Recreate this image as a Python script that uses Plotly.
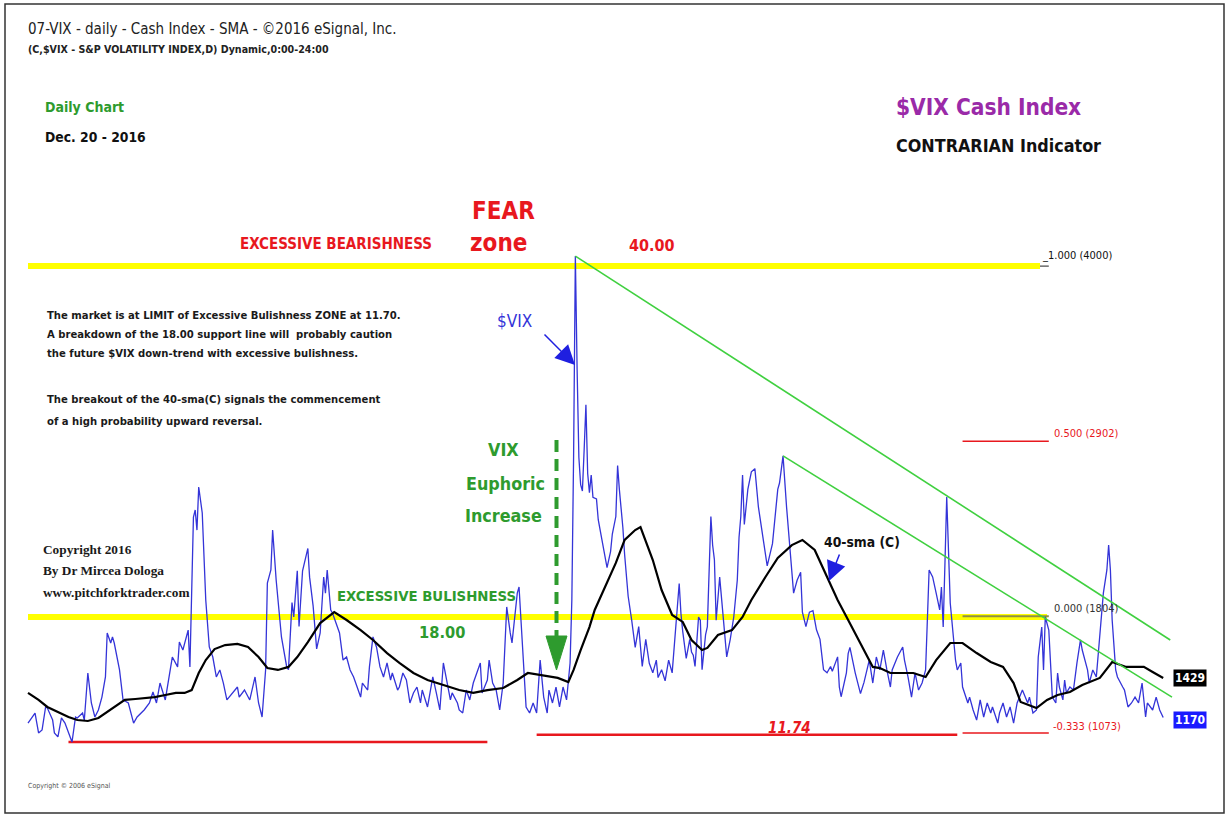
import plotly.graph_objects as go

W, H = 1228, 816

# ---------------- data (trading-day index, $VIX close) ----------------
vix_day = [0, 2, 4, 6, 8, 10, 11, 14, 15, 17, 19, 21, 23, 25, 27, 28, 31, 32, 34, 36, 38, 40, 42, 44, 45, 47, 48, 49,
           52, 54, 57, 60, 62, 66, 69, 71, 73, 75, 78, 81, 82, 85, 86, 88, 91, 92, 94, 95, 96, 97, 99, 101, 102, 103,
           105, 107, 109, 111, 113, 116, 119, 120, 123, 126, 129, 131, 133, 135, 136, 138, 139, 141, 144, 147, 148,
           150, 151, 153, 154, 156, 159, 160, 162, 164, 166, 168, 169, 170, 172, 173, 176, 177, 179, 181, 183, 185,
           187, 189, 190, 193, 194, 196, 198, 200, 202, 204, 206, 207, 210, 211, 213, 215, 217, 219, 221, 223, 224,
           227, 228, 230, 232, 234, 236, 238, 240, 241, 244, 245, 247, 249, 251, 253, 255, 257, 258, 261, 262, 264,
           266, 268, 270, 272, 274, 275, 278, 279, 281, 283, 285, 287, 289, 291, 293, 295, 296, 298, 300, 302, 304,
           306, 308, 309, 310, 311, 312, 313, 314, 315, 316, 317, 318, 319, 320, 321, 323, 324, 326, 327, 329, 331,
           332, 334, 335, 336, 337, 338, 339, 341, 343, 345, 347, 349, 351, 353, 355, 357, 358, 360, 362, 364, 366,
           367, 368, 370, 371, 372, 374, 376, 377, 378, 379, 381, 382, 383, 385, 386, 388, 389, 390, 391, 393, 395,
           397, 399, 401, 403, 404, 405, 406, 407, 409, 411, 413, 415, 417, 419, 420, 423, 426, 427, 429, 431, 433,
           435, 437, 439, 440, 442, 444, 446, 448, 450, 452, 454, 456, 457, 460, 461, 462, 465, 466, 467, 470, 472,
           473, 475, 478, 480, 482, 484, 486, 488, 490, 491, 494, 497, 498, 500, 502, 504, 506, 508, 510, 512, 514,
           516, 518, 519, 520, 521, 522, 524, 526, 527, 528, 530, 531, 534, 535, 537, 539, 541, 543, 545, 547, 548,
           551, 552, 554, 556, 558, 560, 562, 564, 565, 568, 569, 571, 573, 574, 576, 577, 578, 580, 581, 582, 584,
           585, 586, 588, 589, 590, 592, 594, 596, 598, 599, 602, 603, 605, 607, 609, 611, 613, 614, 615, 616, 618,
           619, 622, 623, 625, 627, 629, 631, 633, 635, 636, 639, 641, 643, 645]
vix_close = [11.35, 11.67, 11.98, 10.73, 10.92, 12.36, 12.29, 11.54, 10.73, 10.48, 11.67, 11.35, 10.73, 10.16, 11.73,
             11.67, 11.98, 11.54, 14.49, 12.61, 11.73, 12.17, 12.98, 14.24, 17.00, 16.37, 16.75, 16.37,
             14.68, 12.80, 12.61, 11.35, 11.73, 12.17, 12.61, 13.30, 12.61, 13.86, 12.80, 14.68, 15.49, 14.87, 16.43,
             15.93, 17.18, 14.87, 24.27, 24.71, 23.45, 26.15, 24.52, 19.07, 17.37, 16.12,
             15.49, 14.24, 14.68, 13.86, 12.80, 13.24, 13.61, 12.98, 13.42, 12.80, 14.24, 12.61, 11.73, 14.68, 20.13,
             20.95, 23.45, 20.32, 16.75, 14.87, 14.70,
             18.90, 18.00, 20.90, 17.40, 20.90, 22.30, 20.50, 18.70, 16.00, 17.00, 20.51, 19.50, 20.95, 18.44, 18.25,
             17.37, 17.00, 15.30, 15.49, 14.68, 14.24,
             13.61, 12.98, 13.86, 13.42, 14.87, 16.75, 16.12, 14.87, 14.24, 15.12, 14.05, 14.49, 13.42, 13.61, 14.49,
             14.05, 12.61, 13.24, 13.61, 12.61, 13.42,
             12.36, 12.98, 14.24, 13.24, 12.17, 15.12, 13.86, 12.80, 13.24, 12.61, 12.17, 11.98, 13.42, 12.80, 13.86,
             14.49, 15.12, 13.24, 14.05, 15.30, 13.86,
             13.42, 12.17, 13.86, 18.63, 17.00, 16.37, 19.50, 19.88, 16.12, 12.36, 11.98, 12.61, 11.98, 15.30, 12.98,
             11.98, 13.42, 12.61, 13.61, 12.36, 13.61,
             12.80, 15.12, 19.07, 28.09, 40.63, 33.50, 28.00, 26.30, 25.90, 28.50, 31.30, 27.00, 25.80, 26.90, 25.50,
             25.40, 24.10, 22.90, 22.20, 21.10, 22.10,
             23.20, 24.30, 27.50, 26.00, 24.90, 23.60, 21.90, 19.30, 17.80, 16.10, 17.40, 14.90, 16.60, 15.10, 14.50,
             15.30, 14.20, 14.70, 14.00, 15.30, 14.50,
             15.80, 17.30, 20.10, 18.20, 17.10, 15.40, 16.60, 15.80, 15.60, 14.90, 18.00, 17.80, 14.70, 16.90, 17.40,
             24.30, 22.50, 21.60, 17.80, 20.50, 18.20,
             15.50, 16.60, 18.00, 20.30, 23.00, 24.30, 26.90, 23.80, 26.00, 27.10, 27.30, 24.90, 23.50, 22.20, 21.20,
             22.60, 26.00, 26.40, 28.10, 24.90, 22.20,
             19.50, 20.30, 20.80, 18.30, 17.40, 18.30, 18.40, 17.20, 16.60, 14.70, 14.50, 14.90, 14.60, 15.50, 13.60,
             13.00, 14.50, 15.70, 16.10, 14.50, 13.60,
             13.20, 13.90, 15.30, 13.86, 15.49, 14.68, 15.93, 14.68, 13.61, 14.68, 15.49, 16.12, 15.30, 14.24, 12.98,
             14.49, 13.42, 13.86, 14.68, 20.95, 20.51,
             19.50, 18.44, 19.88, 17.37, 21.39, 25.52, 18.88, 16.12, 15.30, 14.68, 15.12, 13.61, 12.61, 12.98, 12.17,
             11.54, 12.80, 11.73, 12.61, 11.98, 12.36,
             11.35, 11.98, 12.61, 11.73, 12.36, 11.35, 12.61, 13.24, 13.42, 12.61, 12.98, 11.98, 12.17, 15.49, 17.37,
             14.68, 18.00, 17.18, 14.68, 12.98, 12.61,
             14.49, 13.61, 12.80, 14.05, 13.24, 13.61, 13.42, 15.12, 16.56, 15.93, 14.68, 13.86, 14.68, 14.24, 16.75,
             19.50, 20.95, 22.51, 20.95, 17.81, 14.68,
             14.24, 13.61, 13.42, 12.36, 12.61, 12.98, 12.61, 13.86, 11.73, 12.61, 12.17, 12.98, 12.17, 11.70]

sma_day = [0, 6, 11, 17, 23, 28, 34, 40, 45, 51, 55, 61, 66, 72, 78, 84, 89, 93, 97, 101, 106, 112, 119, 125, 131,
           136, 142, 148, 153, 159, 166, 174, 181, 189, 196, 204, 211, 219, 227, 236, 245, 253, 261, 270, 278, 284,
           291, 301, 307, 310, 314, 319, 322, 328, 334, 339, 345, 348, 350, 355, 360, 366, 372, 377, 383, 386, 392,
           400, 406, 411, 419, 426, 434, 440, 447, 453, 460, 466, 474, 480, 484, 490, 495, 503, 510, 516, 524, 531,
           539, 547, 554, 560, 564, 569, 573, 579, 585, 592, 599, 609, 616, 624, 634, 639, 645]
sma_40 = [13.24, 12.80, 12.36, 12.04, 11.73, 11.54, 11.48, 11.67, 12.04, 12.48, 12.80, 12.86, 12.92, 12.98, 13.11,
          13.24, 13.24, 13.42, 14.49, 15.30, 15.99, 16.24, 16.31, 16.12, 15.49,
          14.80, 14.68, 14.87, 15.49, 16.43, 17.62, 18.31, 17.81, 17.18, 16.56, 15.74, 15.12, 14.49, 14.05, 13.74,
          13.42, 13.24, 13.42, 13.55, 14.05, 14.49,
          14.36, 14.18, 13.92, 14.68, 15.93, 17.37, 18.44, 19.88, 21.39, 22.83, 23.45, 23.64, 23.02, 21.57, 19.69,
          18.13, 17.69, 16.56, 15.93, 16.06, 16.87,
          17.18, 18.00, 19.07, 20.51, 21.70, 22.51, 22.83, 22.20, 20.76, 19.07, 17.81, 16.12, 14.87, 14.80, 14.49,
          14.49, 14.49, 14.24, 15.30, 16.37, 16.37,
          15.74, 15.18, 14.87, 13.86, 12.67, 12.48, 12.29, 12.80, 13.11, 13.30, 13.74, 14.18, 15.18, 14.87, 14.87,
          14.55, 14.18]

level_fear = 40.00          # EXCESSIVE BEARISHNESS
level_bull = 18.00          # EXCESSIVE BULISHNESS
fib_values = [40.00, 29.02, 18.04, 10.73]
fib_labels = ["1.000 (4000)", "0.500 (2902)", "0.000 (1804)", "-0.333 (1073)"]
support_values = [10.16, 10.62]
trend_upper = ([311, 649], [40.63, 16.56])
trend_lower = ([429, 650], [28.10, 12.98])
last_close_label = "1170"
last_sma_label = "1429"

# ---------------- styling ----------------
NARROW = "Liberation Sans Narrow, Arial Narrow, DejaVu Sans Condensed, sans-serif"
SERIF = "Liberation Serif, Times New Roman, serif"
RED = "#e8181e"
GREEN_T = "#2e9b2e"
BLUE = "#3434d8"
YELLOW = "#ffff00"
LGREEN = "#40d040"

# axis mapping: 1.76 px per trading day, day 0 at x=28 px; 15.95 px per VIX point, 18.00 at y=617 px
XR = [-28 / 1.76, (W - 28) / 1.76]
YR = [18 - (H - 617) / 15.95, 18 + 617 / 15.95]

fig = go.Figure()


def seg(xs, ys, color, width, dash=None):
    fig.add_trace(go.Scatter(x=xs, y=ys, mode="lines", hoverinfo="skip",
                             line=dict(color=color, width=width, dash=dash)))


# yellow sentiment levels
seg([0, 575], [level_fear, level_fear], YELLOW, 6)
seg([0, 579], [level_bull, level_bull], YELLOW, 6)
# fibonacci levels
seg([575, 580], [fib_values[0], fib_values[0]], "#222222", 1)
seg([531, 580], [fib_values[1], fib_values[1]], RED, 1.5)
seg([531, 580], [fib_values[2], fib_values[2]], "#8f8f45", 2)
seg([531, 580], [fib_values[3], fib_values[3]], RED, 1.5)
# red support lines
seg([23, 261], [support_values[0], support_values[0]], RED, 2.5)
seg([289, 528], [support_values[1], support_values[1]], RED, 2.5)

# VIX and SMA
fig.add_trace(go.Scatter(x=vix_day, y=vix_close, mode="lines", hoverinfo="skip",
                         line=dict(color=BLUE, width=1.3)))
fig.add_trace(go.Scatter(x=sma_day, y=sma_40, mode="lines", hoverinfo="skip",
                         line=dict(color="#000000", width=2.2)))
# trend lines
seg(trend_upper[0], trend_upper[1], LGREEN, 1.6)
seg(trend_lower[0], trend_lower[1], LGREEN, 1.6)


def P(x, y):
    return x / W, 1 - y / H


ann = []


def txt(s, x, y, size, color, anchor="left", family=NARROW, bold=True, italic=False):
    t = s
    if bold:
        t = f"<b>{t}</b>"
    if italic:
        t = f"<i>{t}</i>"
    px, py = P(x, y)
    ann.append(dict(text=t, x=px, y=py, xref="paper", yref="paper", xanchor=anchor, yanchor="middle",
                    showarrow=False, font=dict(family=family, size=size, color=color)))


txt("07-VIX - daily - Cash Index - SMA - ©2016 eSignal, Inc.", 26, 29, 15, "#222222", bold=False)
txt("(C,$VIX - S&amp;P VOLATILITY INDEX,D) Dynamic,0:00-24:00", 26, 49, 10.6, "#222222")
txt("Daily Chart", 43, 107, 14, GREEN_T)
txt("Dec. 20 - 2016", 43, 137, 13.8, "#111111")
txt("$VIX Cash Index", 894, 107, 22.5, "#9a2aa8")
txt("CONTRARIAN Indicator", 894, 145, 17.8, "#111111")
txt("FEAR", 503, 211, 24, RED, anchor="center")
txt("zone", 498, 243, 24, RED, anchor="center")
txt("EXCESSIVE BEARISHNESS", 238, 244, 15, RED)
txt("40.00", 627, 245, 16, RED)

para = ["The market is at LIMIT of Excessive Bulishness ZONE at 11.70.",
        "A breakdown of the 18.00 support line will  probably caution",
        "the future $VIX down-trend with excessive bulishness.",
        "The breakout of the 40-sma(C) signals the commencement",
        "of a high probability upward reversal."]
for s, yy in zip(para, [316, 334, 353, 399, 421]):
    txt(s, 45, yy, 11.2, "#1a1a1a")

txt("$VIX", 495, 321, 17, BLUE, bold=False)
txt("VIX", 503, 449, 17.8, GREEN_T, anchor="center")
txt("Euphoric", 505, 483, 17.8, GREEN_T, anchor="center")
txt("Increase", 503, 515, 17.8, GREEN_T, anchor="center")

for s, yy in zip(["Copyright 2016", "By Dr Mircea Dologa", "www.pitchforktrader.com"], [549, 570, 592]):
    txt(s, 41, yy, 13.3, "#1a1a1a", family=SERIF)

txt("EXCESSIVE BULISHNESS", 335, 595, 14.8, GREEN_T)
txt("18.00", 417, 632, 16.3, GREEN_T)
txt("40-sma (C)", 822, 542, 13.8, "#111111")
txt("11.74", 790, 728, 15, RED, anchor="center", italic=True)

txt("_" + fib_labels[0], 1040, 255, 11, "#111111", bold=False)
txt(fib_labels[1], 1052, 433, 11, RED, bold=False)
txt(fib_labels[2], 1052, 608, 11, "#333333", bold=False)
txt(fib_labels[3], 1051, 726, 11, RED, bold=False)
txt("Copyright © 2006 eSignal", 26, 786, 7, "#555555", bold=False)

# price boxes on the right
for s, yy, bg in [(last_sma_label, 678, "#000000"), (last_close_label, 720, "#1a1aff")]:
    px, py = P(1190, yy)
    ann.append(dict(text=f"<b>{s}</b>", x=px, y=py, xref="paper", yref="paper", xanchor="center",
                    yanchor="middle", showarrow=False, bgcolor=bg, borderpad=1,
                    font=dict(family=NARROW, size=12, color="#ffffff")))

# arrows
for (tx, ty), (sx, sy) in [((575, 365), (543, 333)), ((829, 581), (840, 553))]:
    px, py = P(tx, ty)
    ann.append(dict(text="", x=px, y=py, xref="paper", yref="paper", showarrow=True,
                    ax=sx - tx, ay=sy - ty, arrowhead=2, arrowsize=2.6, arrowwidth=1.5, arrowcolor="#1f1fe0"))

shapes = []
x0, y0 = P(556.5, 440)
x1, y1 = P(556.5, 636)
shapes.append(dict(type="line", xref="paper", yref="paper", x0=x0, y0=y0, x1=x1, y1=y1,
                   line=dict(color=GREEN_T, width=4, dash="12px,7px")))
a = P(546, 636)
b = P(567, 636)
c = P(556.5, 670)
shapes.append(dict(type="path", xref="paper", yref="paper",
                   path=f"M {a[0]},{a[1]} L {b[0]},{b[1]} L {c[0]},{c[1]} Z",
                   fillcolor=GREEN_T, line=dict(color=GREEN_T, width=1)))
bl = P(5, 813)
tr = P(1224, 4)
shapes.append(dict(type="rect", xref="paper", yref="paper", x0=bl[0], y0=bl[1], x1=tr[0], y1=tr[1],
                   line=dict(color="#333333", width=1.5), fillcolor="rgba(0,0,0,0)"))

fig.update_layout(
    width=W, height=H, autosize=False,
    margin=dict(l=0, r=0, t=0, b=0),
    paper_bgcolor="white", plot_bgcolor="white",
    showlegend=False, hovermode=False,
    xaxis=dict(range=XR, visible=False, showgrid=False, zeroline=False, fixedrange=True),
    yaxis=dict(range=YR, visible=False, showgrid=False, zeroline=False, fixedrange=True),
    annotations=ann, shapes=shapes,
)

fig.write_html("out.html", config={"displayModeBar": False, "staticPlot": True},
               post_script="document.body.style.margin='0px';document.body.style.overflow='hidden';")
